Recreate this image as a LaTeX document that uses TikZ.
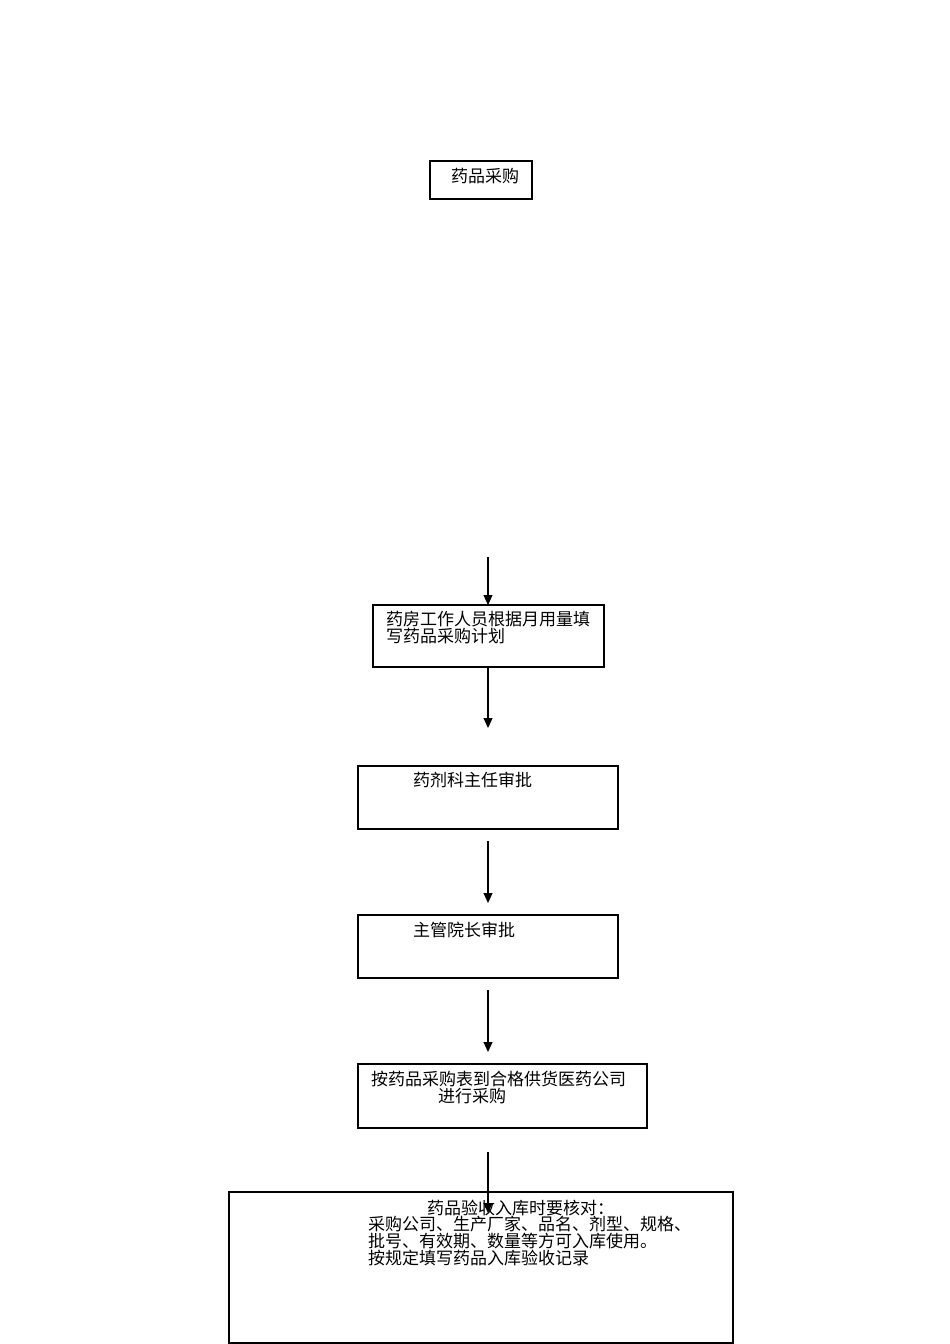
\documentclass[tikz,border=0pt]{standalone}
\usepackage{fontspec}
\newfontfamily\cjk{Noto Sans CJK SC}
\usetikzlibrary{arrows.meta}
\begin{document}
\begin{tikzpicture}[x=1pt,y=-1pt,
  boxx/.style={draw,line width=1.1pt,inner sep=0pt,outer sep=0pt},
  txt/.style={anchor=west,inner sep=0pt,font=\cjk\fontsize{17}{17}\selectfont},
  arr/.style={line width=1.1pt,-{Triangle[length=10pt,width=9pt]}}]
\useasboundingbox (0,0) rectangle (950,1344);
% boxes (width x height, at centre)
\node[boxx,minimum width=102pt,minimum height=38pt] (b1) at (481,180) {};
\node[txt] (t1) at (451,176) {药品采购};

\node[boxx,minimum width=231pt,minimum height=62pt] (b2) at (488.5,636) {};
\node[txt] (t2a) at (386,619) {药房工作人员根据月用量填};
\node[txt] (t2b) at (386,636) {写药品采购计划};

\node[boxx,minimum width=260pt,minimum height=63pt] (b3) at (488,797.5) {};
\node[txt] (t3) at (413,780) {药剂科主任审批};

\node[boxx,minimum width=260pt,minimum height=63pt] (b4) at (488,946.5) {};
\node[txt] (t4) at (413,930) {主管院长审批};

\node[boxx,minimum width=289pt,minimum height=64pt] (b5) at (502.5,1096) {};
\node[txt] (t5a) at (371,1079) {按药品采购表到合格供货医药公司};
\node[txt] (t5b) at (438,1096) {进行采购};

\node[boxx,minimum width=504pt,minimum height=151pt] (b6) at (481,1267.5) {};
\node[txt] (t6a) at (427,1208) {药品验收入库时要核对：};
\node[txt] (t6b) at (368,1224) {采购公司、生产厂家、品名、剂型、规格、};
\node[txt] (t6c) at (368,1241) {批号、有效期、数量等方可入库使用。};
\node[txt] (t6d) at (368,1258) {按规定填写药品入库验收记录};

% connectors
\coordinate (a1s) at (488,557);
\coordinate (b2top) at (488,605);
\coordinate (b2bot) at (488,667);
\coordinate (a2e) at (488,728);
\coordinate (a3s) at (488,841);
\coordinate (a3e) at (488,903);
\coordinate (a4s) at (488,990);
\coordinate (a4e) at (488,1052);
\coordinate (a5s) at (488,1152);
\coordinate (a5e) at (488,1213);
\draw[arr] (a1s) -- (b2top);
\draw[arr] (b2bot) -- (a2e);
\draw[arr] (a3s) -- (a3e);
\draw[arr] (a4s) -- (a4e);
\draw[arr] (a5s) -- (a5e);
\end{tikzpicture}
\end{document}
